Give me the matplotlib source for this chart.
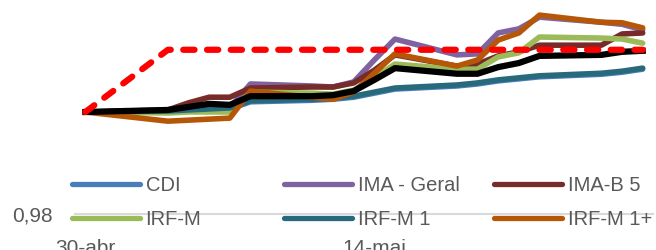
import numpy as np
import matplotlib
matplotlib.use("Agg")
import matplotlib.pyplot as plt
from matplotlib import font_manager

# pick a narrow Calibri-like face if we have one
names = set(f.name for f in font_manager.fontManager.ttflist)
fam = [f for f in ["Liberation Sans Narrow", "Liberation Sans", "DejaVu Sans"] if f in names]
plt.rcParams["font.family"] = fam

# business days (2020), x axis is a date axis
dates = np.array(["2020-04-30", "2020-05-04", "2020-05-05", "2020-05-06", "2020-05-07",
                  "2020-05-08", "2020-05-11", "2020-05-12", "2020-05-13", "2020-05-14",
                  "2020-05-15", "2020-05-18", "2020-05-19", "2020-05-20", "2020-05-21",
                  "2020-05-22", "2020-05-25", "2020-05-26", "2020-05-27"], dtype="datetime64[D]")
tick_dates = np.array(["2020-04-30", "2020-05-14"], dtype="datetime64[D]")
tick_labels = ["30-abr", "14-mai"]

cdi = [1.0000, 1.0000, 1.0002, 1.0004, 1.0006, 1.0020, 1.0023, 1.0025, 1.0029, 1.0037,
       1.0045, 1.0051, 1.0055, 1.0061, 1.0065, 1.0069, 1.0074, 1.0078, 1.0084]
ima_geral = [1.0000, 1.0002, 1.0004, 1.0006, 1.0008, 1.0055, 1.0051, 1.0049, 1.0059, 1.0102,
             1.0143, 1.0112, 1.0114, 1.0155, 1.0163, 1.0186, 1.0176, 1.0172, 1.0161]
ima_b5 = [1.0000, 1.0004, 1.0018, 1.0029, 1.0029, 1.0047, 1.0049, 1.0049, 1.0057, 1.0082,
          1.0112, 1.0090, 1.0094, 1.0110, 1.0118, 1.0131, 1.0131, 1.0153, 1.0155]
irf_m = [1.0000, 0.9998, 1.0000, 1.0000, 1.0000, 1.0039, 1.0037, 1.0035, 1.0043, 1.0067,
         1.0094, 1.0084, 1.0084, 1.0108, 1.0116, 1.0147, 1.0145, 1.0143, 1.0135]
irf_m1 = [1.0000, 1.0002, 1.0004, 1.0006, 1.0008, 1.0022, 1.0025, 1.0027, 1.0031, 1.0039,
          1.0047, 1.0053, 1.0057, 1.0063, 1.0067, 1.0071, 1.0076, 1.0080, 1.0086]
irf_m1p = [1.0000, 0.9982, 0.9984, 0.9986, 0.9988, 1.0041, 1.0029, 1.0025, 1.0039, 1.0076,
           1.0114, 1.0090, 1.0102, 1.0141, 1.0155, 1.0190, 1.0176, 1.0175, 1.0165]
carteira = [1.0000, 1.0004, 1.0010, 1.0016, 1.0014, 1.0031, 1.0031, 1.0033, 1.0041, 1.0063,
            1.0086, 1.0075, 1.0075, 1.0088, 1.0096, 1.0110, 1.0112, 1.0118, 1.0120]
meta = [1.0000] + [1.0122] * 18

series = [
    ("CDI", cdi, "#4a7ebb"),
    ("IMA - Geral", ima_geral, "#7f63a1"),
    ("IMA-B 5", ima_b5, "#772c2a"),
    ("IRF-M", irf_m, "#9bbb59"),
    ("IRF-M 1", irf_m1, "#276a7c"),
    ("IRF-M 1+", irf_m1p, "#b65708"),
]

x = (dates - dates[0]).astype(int)
xt = (tick_dates - dates[0]).astype(int)

fig = plt.figure(figsize=(6.56, 2.5), dpi=100)
ax = fig.add_axes([75 / 656, 36 / 250, 578 / 656, 204 / 250])

handles = {}
for name, vals, col in series:
    ln, = ax.plot(x, vals, color=col, lw=4, solid_joinstyle="round", solid_capstyle="round")
    handles[name] = ln
ax.plot(x, carteira, color="black", lw=4.5, solid_joinstyle="round")
ax.plot(x, meta, color="#ff0000", lw=4.5, dashes=(1.8, 2.0), dash_capstyle="round")

ax.set_xlim(x[0] - 0.5, x[-1] + 0.5)
ax.set_ylim(0.98, 1.02)
for s in ["top", "right", "left"]:
    ax.spines[s].set_visible(False)
ax.spines["bottom"].set_color("#d9d9d9")
ax.spines["bottom"].set_linewidth(1.5)

ax.set_yticks([0.98])
ax.set_yticklabels(["0,98"])
ax.set_xticks(xt)
ax.set_xticklabels(tick_labels)
ax.tick_params(axis="y", length=0, pad=16, labelsize=15, labelcolor="#595959")
ax.tick_params(axis="x", length=0, pad=18, labelsize=15, labelcolor="#595959")

# legend: three columns of two rows, laid out like the Excel one
cols = [["CDI", "IRF-M"], ["IMA - Geral", "IRF-M 1"], ["IMA-B 5", "IRF-M 1+"]]
col_x = [72, 284, 494]
for i, names_ in enumerate(cols):
    leg = fig.legend([handles[n] for n in names_], names_, loc="center left",
                     bbox_to_anchor=(col_x[i] / 656, 1 - 202.5 / 250),
                     frameon=False, fontsize=14.5, handlelength=3.4, handletextpad=0.25,
                     borderpad=0, borderaxespad=0, labelspacing=0.72, labelcolor="#595959")
    for ln in leg.get_lines():
        ln.set_linewidth(3.8)
        ln.set_solid_capstyle("round")

fig.savefig("out.png", dpi=100)
